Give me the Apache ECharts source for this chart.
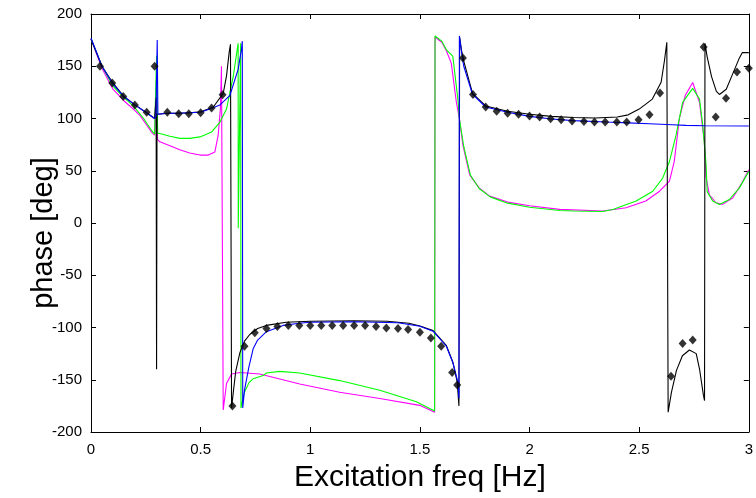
<!DOCTYPE html>
<html>
<head>
<meta charset="utf-8">
<script src="https://cdn.jsdelivr.net/npm/echarts@6/dist/echarts.min.js"></script>
<style>html,body{margin:0;padding:0;background:#fff}#c{width:756px;height:498px}</style>
</head>
<body>
<div id="c"></div>
<script>
var xTicks = [0, 0.5, 1, 1.5, 2, 2.5, 3];
var yTicks = [-200, -150, -100, -50, 0, 50, 100, 150, 200];

var blackLine = [[0,176],[0.05,150],[0.1,134],[0.15,121],[0.2,113],[0.25,106],[0.29,100],[0.297,120],[0.299,-140],[0.301,104],[0.31,105],[0.35,105],[0.4,105],[0.45,105.5],[0.5,106.5],[0.557,110.8],[0.603,124],[0.618,140.7],[0.63,163],[0.636,171],[0.641,-177],[0.65,-160],[0.66,-142],[0.679,-124],[0.70,-113],[0.724,-106.7],[0.76,-101],[0.80,-98],[0.89,-95],[1.0,-94],[1.2,-93.5],[1.35,-94],[1.45,-96],[1.5,-98.5],[1.56,-103],[1.62,-117],[1.65,-133],[1.67,-152],[1.678,-175],[1.681,178],[1.69,165],[1.70,155],[1.74,124],[1.8,112],[1.9,107],[2.0,104],[2.1,102],[2.2,101],[2.3,100.5],[2.4,101.5],[2.45,103.5],[2.5,109],[2.56,118.6],[2.6,134.7],[2.615,155],[2.626,173],[2.632,-181],[2.647,-162],[2.67,-141],[2.697,-127],[2.729,-121.5],[2.76,-125],[2.775,-139.5],[2.793,-165],[2.798,-170],[2.80,172],[2.81,159],[2.83,140],[2.852,126],[2.866,123],[2.897,128],[2.925,142],[2.957,158],[2.97,163],[3,163]];

var blueLine = [[0,177],[0.05,150],[0.1,133],[0.15,121],[0.2,113],[0.25,106],[0.29,100],[0.296,102],[0.302,175],[0.305,104],[0.31,105],[0.35,105],[0.4,105],[0.45,105.5],[0.5,106],[0.542,109],[0.588,113],[0.633,121.8],[0.671,147],[0.686,166],[0.69,174],[0.692,-177],[0.70,-160],[0.72,-138],[0.74,-120],[0.76,-112],[0.80,-104],[0.876,-98],[0.95,-96],[1.0,-95],[1.2,-94.5],[1.4,-95.5],[1.5,-98.8],[1.56,-103.5],[1.62,-117.7],[1.65,-133.5],[1.673,-152],[1.678,-168],[1.68,179],[1.69,163],[1.70,150],[1.74,123],[1.8,111],[1.9,106],[2.0,102],[2.1,99.5],[2.2,98],[2.35,96.6],[2.45,95.8],[2.547,95],[2.65,94],[2.714,93.4],[2.8,93],[3,92.8]];

var greenLine = [[0,176],[0.05,150],[0.1,131],[0.15,120],[0.193,112],[0.24,100],[0.276,88.7],[0.29,85],[0.299,160],[0.304,86],[0.314,85.6],[0.36,83],[0.405,81],[0.45,81],[0.497,82.4],[0.55,87],[0.588,96.6],[0.618,109],[0.649,140.7],[0.671,172],[0.6715,-5],[0.6825,172],[0.684,-177],[0.70,-162],[0.72,-153],[0.74,-149],[0.785,-146],[0.80,-143.6],[0.861,-142],[0.952,-143.6],[1.134,-150.8],[1.317,-160],[1.484,-171],[1.567,-180],[1.569,179],[1.6,174],[1.62,166],[1.65,159.6],[1.673,118.7],[1.68,100],[1.70,73],[1.73,46],[1.77,33],[1.82,25],[1.9,19],[2.0,15],[2.137,12],[2.2,11.5],[2.334,11],[2.38,13],[2.486,21],[2.562,30.4],[2.607,43],[2.638,58.8],[2.668,84],[2.698,115.5],[2.744,128.8],[2.775,118.7],[2.79,93.4],[2.805,55.6],[2.81,30],[2.835,21],[2.866,17.8],[2.911,22.5],[2.957,33.6],[3,49.4]];

var magentaLine = [[0,176],[0.05,148],[0.1,128],[0.15,117],[0.193,109],[0.223,103],[0.25,95],[0.276,87],[0.29,84],[0.298,137],[0.303,80],[0.314,77.7],[0.36,74],[0.405,70],[0.45,67],[0.497,65],[0.535,65],[0.565,68],[0.58,84],[0.59,109],[0.595,150],[0.603,-179],[0.618,-153.7],[0.641,-144.5],[0.679,-143],[0.77,-144.5],[0.952,-154],[1.134,-162],[1.317,-168],[1.499,-174.5],[1.567,-181],[1.569,178],[1.6,173],[1.62,165],[1.643,153],[1.666,116],[1.68,100],[1.696,74.5],[1.727,46],[1.77,33.6],[1.818,25.7],[1.9,20],[2.0,16.5],[2.137,13],[2.334,11.5],[2.44,14.6],[2.53,21],[2.593,30.4],[2.638,40],[2.66,59],[2.683,99.8],[2.71,122],[2.744,134.5],[2.775,115.5],[2.797,77.7],[2.805,44],[2.82,27],[2.85,19.4],[2.88,17.8],[2.926,24],[2.964,36.7],[3,51]];

var measured = [[0.041,150],[0.097,134],[0.147,121],[0.2,113],[0.254,106],[0.29,150],[0.348,106],[0.40,104.5],[0.446,104.5],[0.50,105.4],[0.55,110],[0.60,122.8],[0.645,-175],[0.70,-118],[0.747,-105],[0.80,-101],[0.85,-99],[0.90,-98],[0.95,-98],[1.0,-98],[1.05,-98],[1.10,-98],[1.15,-98],[1.20,-98],[1.25,-98],[1.30,-99],[1.347,-100.4],[1.40,-101],[1.446,-102],[1.50,-104.5],[1.55,-110],[1.597,-118],[1.647,-143],[1.67,-155],[1.696,158],[1.742,123],[1.80,111],[1.85,107],[1.90,105],[1.95,104],[2.0,102.5],[2.046,101.4],[2.096,99.8],[2.144,98.8],[2.194,97.6],[2.248,97.2],[2.296,96.6],[2.345,96.6],[2.398,96.6],[2.443,96.6],[2.497,98.8],[2.547,103.5],[2.595,124.3],[2.645,-146.7],[2.698,-115.2],[2.744,-112],[2.794,168.5],[2.849,101.4],[2.896,119.3],[2.946,144.5],[3.0,148]];

var FONT = 'Liberation Sans, Arial, sans-serif';
function lineSeries(data, color, z) {
  return {type:'line', data:data, showSymbol:false, symbol:'none', z:z,
    lineStyle:{color:color, width:1.1}, itemStyle:{color:color}, silent:true};
}
var chart = echarts.init(document.getElementById('c'), null, {renderer:'canvas'});
chart.setOption({
  animation:false,
  backgroundColor:'#fff',
  grid:{left:91, right:7, top:14, bottom:61, containLabel:false},
  xAxis:[{
    type:'value', min:xTicks[0], max:xTicks[xTicks.length-1], interval:0.5, position:'bottom',
    name:'Excitation freq [Hz]', nameLocation:'middle', nameGap:31,
    nameTextStyle:{fontSize:30, color:'#000', fontFamily:FONT},
    axisLine:{show:true, onZero:false, lineStyle:{color:'#000', width:1}},
    axisTick:{show:true, inside:true, length:5, lineStyle:{color:'#000'}},
    axisLabel:{fontSize:15, color:'#000', fontFamily:FONT, margin:10,
      formatter:function(v){return String(v);}},
    splitLine:{show:false}
  },{
    type:'value', min:xTicks[0], max:xTicks[xTicks.length-1], interval:0.5, position:'top',
    axisLine:{show:true, onZero:false, lineStyle:{color:'#000', width:1}},
    axisTick:{show:true, inside:true, length:5, lineStyle:{color:'#000'}},
    axisLabel:{show:false}, splitLine:{show:false}
  }],
  yAxis:[{
    type:'value', min:yTicks[0], max:yTicks[yTicks.length-1], interval:50, position:'left',
    name:'phase [deg]', nameLocation:'middle', nameGap:33, nameRotate:90, nameMoveOverlap:false,
    nameTextStyle:{fontSize:29, color:'#000', fontFamily:FONT, padding:[0,20,0,0]},
    axisLine:{show:true, onZero:false, lineStyle:{color:'#000', width:1}},
    axisTick:{show:true, inside:true, length:5, lineStyle:{color:'#000'}},
    axisLabel:{fontSize:15, color:'#000', fontFamily:FONT, margin:9},
    splitLine:{show:false}
  },{
    type:'value', min:yTicks[0], max:yTicks[yTicks.length-1], interval:50, position:'right',
    axisLine:{show:true, onZero:false, lineStyle:{color:'#000', width:1}},
    axisTick:{show:true, inside:true, length:5, lineStyle:{color:'#000'}},
    axisLabel:{show:false}, splitLine:{show:false}
  }],
  series:[
    lineSeries(magentaLine, '#ff00ff', 2),
    lineSeries(greenLine, '#00ff00', 3),
    lineSeries(blackLine, '#000000', 4),
    lineSeries(blueLine, '#0000ff', 5),
    {type:'scatter', data:measured, symbol:'diamond', symbolSize:[8,9], z:6,
      itemStyle:{color:'#000'}, silent:true}
  ]
});
</script>
</body>
</html>
